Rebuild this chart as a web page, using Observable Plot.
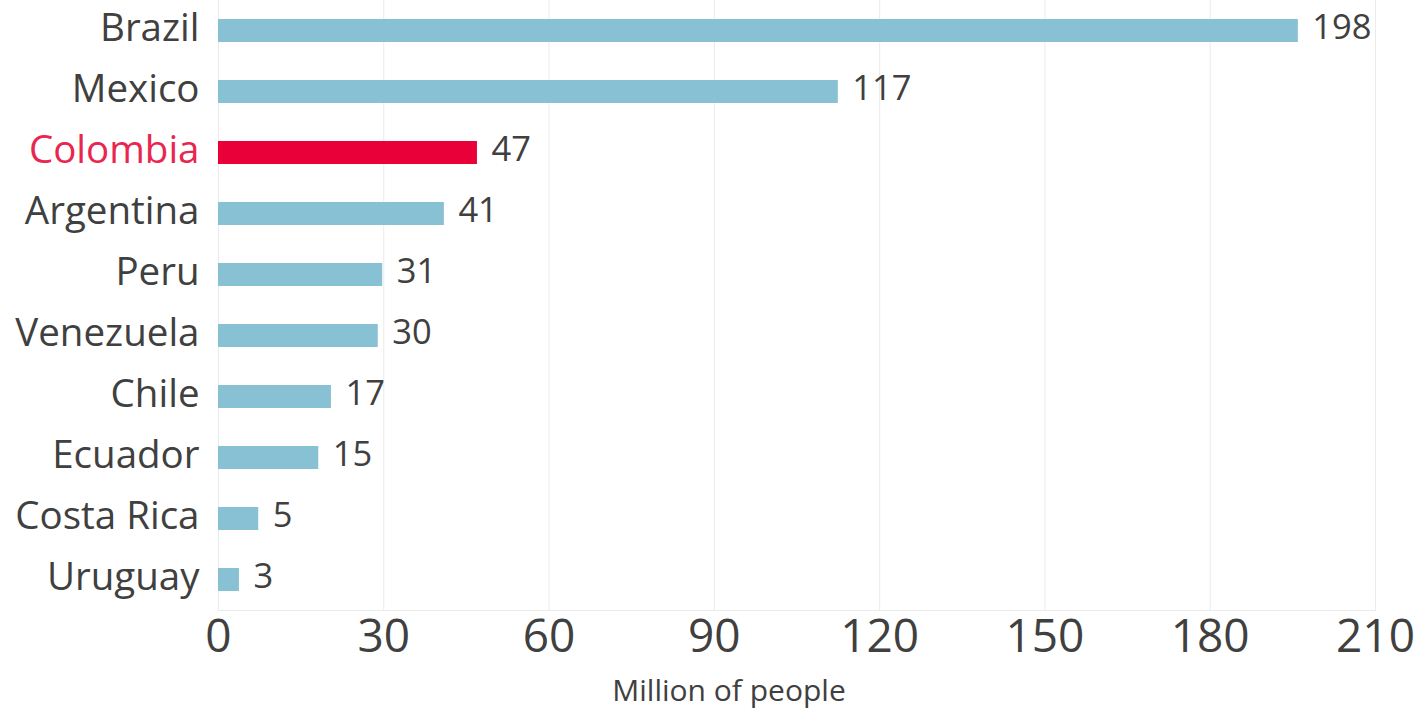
<!DOCTYPE html>
<html><head><meta charset="utf-8">
<script src="https://cdn.jsdelivr.net/npm/d3@7"></script>
<script src="https://cdn.jsdelivr.net/npm/@observablehq/plot@0.6"></script>
<style>
body{margin:0;background:#fff;}
</style></head><body><div id="chart"></div>
<script>
const countries = ["Brazil","Mexico","Colombia","Argentina","Peru","Venezuela","Chile","Ecuador","Costa Rica","Uruguay"];
const barValues = [196, 112.5, 47, 41, 29.8, 29, 20.5, 18.2, 7.3, 3.8];
const valueLabels = ["198","117","47","41","31","30","17","15","5","3"];
const highlight = "Colombia";
const xTicks = [0,30,60,90,120,150,180,210];
const axisTitle = "Million of people";

const rows = countries.map((c,i)=>({country:c, value:barValues[i], label:valueLabels[i]}));
const textColor = "#404040";

const plot = Plot.plot({
  width:1416, height:709,
  marginLeft:218, marginRight:41, marginTop:0, marginBottom:99,
  style:{fontFamily:"'Open Sans', sans-serif", background:"#fff"},
  x:{domain:[0,210]},
  y:{domain:countries, paddingInner:0.62, paddingOuter:0.31},
  marks:[
    Plot.gridX(xTicks,{stroke:"#ebebeb", strokeOpacity:1}),
    Plot.frame({anchor:"bottom", stroke:"#ebebeb"}),
    Plot.barX(rows,{x:"value", y:"country", fill:d=>d.country===highlight?"#ea0038":"#89c1d4"}),
    Plot.text(rows,{x:"value", y:"country", text:"label", textAnchor:"start", dx:14, dy:-3, fontSize:34.5, fill:textColor, ariaLabel:"value labels"}),
    Plot.axisX({ticks:xTicks, tickSize:0, tickPadding:9, fontSize:46, label:null, color:textColor}),
    Plot.axisY({tickSize:0, tickPadding:19, fontSize:38.5, label:null, color:textColor, dy:-2}),
    Plot.text([axisTitle],{text:d=>d, frameAnchor:"bottom", dy:90, dx:-68, fontSize:30, fill:textColor})
  ]
});
const svg = d3.select(plot);
function stretch(sel, s){
  sel.each(function(){
    const t = this.getAttribute("transform") || "";
    const x = this.getAttribute("x"), y = this.getAttribute("y");
    if (x != null || y != null) {
      this.removeAttribute("x"); this.removeAttribute("y");
      this.setAttribute("transform", `${t} translate(${x||0},${y||0}) scale(1,${s})`);
    } else {
      this.setAttribute("transform", `${t} scale(1,${s})`);
    }
  });
}
stretch(svg.selectAll('g[aria-label="value labels"] text'), 1.22);
svg.selectAll('g[aria-label="y-axis tick label"] text')
  .filter(function(){ return this.textContent === highlight; })
  .attr("fill","#e8264f");
document.getElementById("chart").appendChild(plot);
</script></body></html>
